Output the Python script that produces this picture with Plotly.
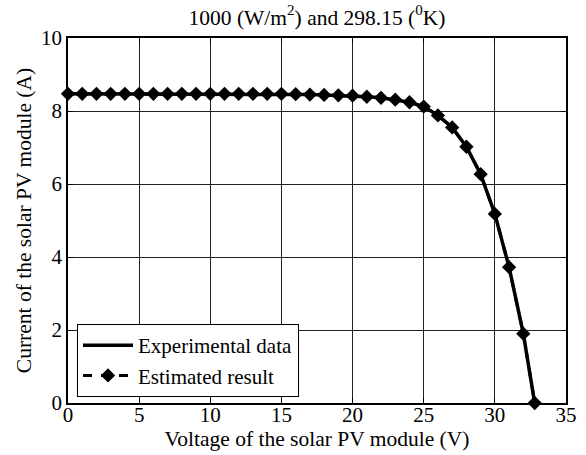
import plotly.graph_objects as go

voltage = list(range(0, 33)) + [32.8]
current_est = [8.47, 8.47, 8.47, 8.47, 8.47, 8.47, 8.47, 8.47, 8.47, 8.47,
               8.47, 8.47, 8.47, 8.47, 8.47, 8.47, 8.46, 8.45, 8.44, 8.43,
               8.42, 8.39, 8.36, 8.31, 8.24, 8.12, 7.88, 7.55, 7.02, 6.27,
               5.18, 3.72, 1.90, 0.0]
current_exp = current_est[:]

x_ticks = [0, 5, 10, 15, 20, 25, 30, 35]
y_ticks = [0, 2, 4, 6, 8, 10]

FAM = "Liberation Serif, Times New Roman, serif"
tick_font = dict(family=FAM, size=21, color="black")
title_font = dict(family=FAM, size=21.5, color="black")

fig = go.Figure()
fig.add_trace(go.Scatter(
    x=voltage, y=current_exp, mode="lines", name="Experimental data",
    line=dict(color="black", width=3.5), cliponaxis=False))
fig.add_trace(go.Scatter(
    x=voltage, y=current_est, mode="lines+markers", name="Estimated result",
    line=dict(color="black", width=3, dash="dash"),
    marker=dict(symbol="diamond", size=11, color="black"), cliponaxis=False))

axis_common = dict(
    showline=True, linecolor="black", linewidth=1.5, mirror="ticks",
    showgrid=True, gridcolor="#222", gridwidth=1,
    ticks="inside", ticklen=5, tickcolor="black",
    zeroline=False, tickfont=tick_font, automargin=False,
)

fig.update_layout(
    width=586, height=455,
    margin=dict(l=68, r=20, t=38, b=52),
    paper_bgcolor="white", plot_bgcolor="white",
    font=tick_font,
    title=dict(text="1000 (W/m<sup>2</sup>) and 298.15 (<sup>0</sup>K)",
               x=317 / 586, xanchor="center", y=1 - 17 / 455, yanchor="middle",
               font=dict(family=FAM, size=21.5, color="black"), automargin=False),
    xaxis=dict(range=[0, 35], tickvals=x_ticks, ticklabelstandoff=-8,
               title=dict(text="Voltage of the solar PV module (V)", standoff=0, font=title_font),
               **axis_common),
    yaxis=dict(range=[0, 10], tickvals=y_ticks,
               title=dict(text="Current of the solar PV module (A)", standoff=4, font=title_font),
               **axis_common),
    legend=dict(x=9 / 498, y=6 / 365, xanchor="left", yanchor="bottom",
                bgcolor="white", bordercolor="black", borderwidth=1,
                font=dict(family=FAM, size=21, color="black"),
                tracegroupgap=0, itemwidth=50),
    showlegend=True,
)

fig.write_html("out.html", config={"displayModeBar": False},
               post_script="document.body.style.margin='0';document.body.style.overflow='hidden';")
